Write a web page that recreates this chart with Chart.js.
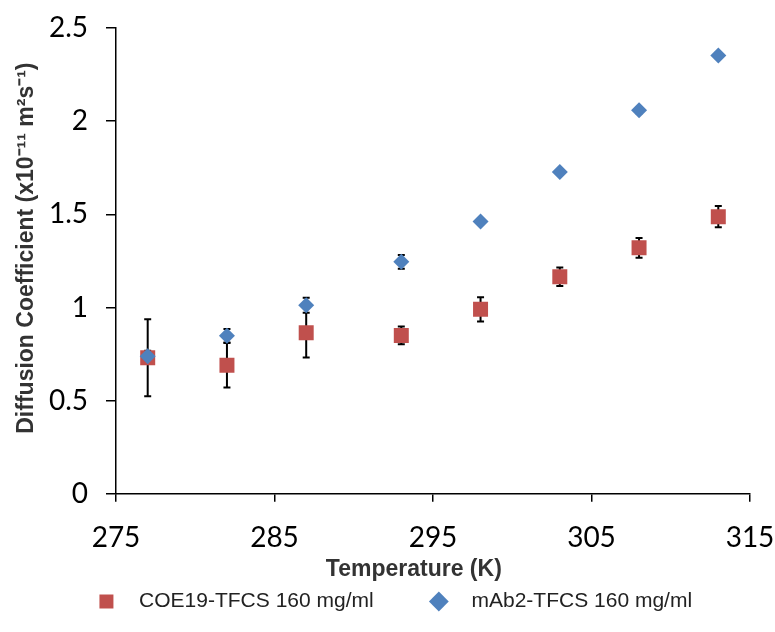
<!DOCTYPE html>
<html>
<head>
<meta charset="utf-8">
<script src="https://cdn.jsdelivr.net/npm/chart.js@4/dist/chart.umd.min.js"></script>
<style>
  html, body { margin: 0; padding: 0; background: #fff; }
  #wrap { width: 775px; height: 632px; }
</style>
</head>
<body>
<div id="wrap"><canvas id="chartCanvas" width="775" height="632"></canvas></div>
<script>
// temperatures (K)
const temps = [277, 282, 287, 293, 298, 303, 308, 313]

// COE19 series + error
const coe19 = [0.73, 0.69, 0.865, 0.85, 0.99, 1.165, 1.32, 1.487]
const coe19Err = [0.207, 0.12, 0.134, 0.048, 0.065, 0.05, 0.053, 0.057]

// mAb2 series + error
const mab2 = [0.738, 0.848, 1.012, 1.245, 1.461, 1.727, 2.058, 2.352]
const mab2Err = [0.03, 0.036, 0.04, 0.037, 0.015, 0.015, 0.015, 0.015]

const xTicks = [275, 285, 295, 305, 315]
const yTicks = [0, 0.5, 1, 1.5, 2, 2.5]

const seriesNames = ["COE19-TFCS 160 mg/ml", "mAb2-TFCS 160 mg/ml"]

function toPoints(ys, errs) {
    return temps.map((t, i) => ({x: t, y: ys[i], err: errs[i]}))
}

// error bars, drawn under the markers
const errorBars = {
    id: "errorBars",
    beforeDatasetsDraw(chart) {
        const ctx = chart.ctx
        const xs = chart.scales.x
        const ys = chart.scales.y
        ctx.save()
        ctx.strokeStyle = "#000"
        ctx.lineWidth = 2
        chart.data.datasets.forEach(ds => {
            ds.data.forEach(p => {
                const px = xs.getPixelForValue(p.x)
                const top = ys.getPixelForValue(p.y + p.err)
                const bot = ys.getPixelForValue(p.y - p.err)
                ctx.beginPath()
                ctx.moveTo(px, top); ctx.lineTo(px, bot)
                ctx.moveTo(px - 3.5, top); ctx.lineTo(px + 3.5, top)
                ctx.moveTo(px - 3.5, bot); ctx.lineTo(px + 3.5, bot)
                ctx.stroke()
            })
        })
        ctx.restore()
    }
}

const tickFont = {family: "Lato", size: 28}
const titleFont = {family: "Liberation Sans", size: 23, weight: "bold"}

const ctx = document.getElementById("chartCanvas")
const myChart = new Chart(ctx, {
    type: "scatter",
    data: {
        datasets: [
            {
                label: seriesNames[0],
                data: toPoints(coe19, coe19Err),
                pointStyle: "rect",
                pointRadius: 10.6,
                pointHoverRadius: 10.6,
                backgroundColor: "#C0504D",
                borderColor: "#C0504D",
                borderWidth: 0,
                order: 1
            },
            {
                label: seriesNames[1],
                data: toPoints(mab2, mab2Err),
                pointStyle: "rectRot",
                pointRadius: 8,
                pointHoverRadius: 8,
                backgroundColor: "#4F81BD",
                borderColor: "#4F81BD",
                borderWidth: 0,
                order: 0
            }
        ]
    },
    options: {
        responsive: false,
        animation: false,
        layout: {padding: {left: 38, right: 25, top: 28, bottom: 10}},
        plugins: {
            tooltip: {enabled: false},
            legend: {
                position: "bottom",
                labels: {
                    usePointStyle: true,
                    boxHeight: 14,
                    padding: 8,
                    color: "#222",
                    font: {family: "Liberation Sans", size: 21},
                    sort: (a, b) => a.datasetIndex - b.datasetIndex,
                    generateLabels(chart) {
                        const items = Chart.defaults.plugins.legend.labels.generateLabels(chart)
                        items.forEach(it => {
                            it.lineWidth = 0
                            // a bit of room after the first entry, like the original
                            it.text = "  " + it.text + (it.datasetIndex === 0 ? "        " : "")
                        })
                        return items
                    }
                }
            }
        },
        scales: {
            x: {
                type: "linear",
                min: 275, max: 315,
                afterBuildTicks: s => { s.ticks = xTicks.map(v => ({value: v})) },
                afterFit: s => { s.paddingLeft = 0; s.paddingRight = 0 },
                border: {color: "#000", width: 1.5},
                grid: {drawOnChartArea: false, drawTicks: true, tickLength: 8, color: "#000", lineWidth: 1.5},
                ticks: {color: "#000", font: tickFont, padding: 19, callback: v => String(v)},
                title: {display: true, text: "Temperature (K)      ", color: "#333",
                        font: titleFont, padding: {top: -18, bottom: 0}}
            },
            y: {
                min: 0, max: 2.5,
                afterBuildTicks: s => { s.ticks = yTicks.map(v => ({value: v})) },
                border: {color: "#000", width: 1.5},
                grid: {drawOnChartArea: false, drawTicks: true, tickLength: 10, color: "#000", lineWidth: 1.5},
                ticks: {color: "#000", font: tickFont, padding: 18, callback: v => String(v)},
                title: {display: true, text: "    Diffusion Coefficient (x10\u207B\u00B9\u00B9 m\u00B2s\u207B\u00B9)", color: "#333",
                        font: titleFont, padding: {top: -25, bottom: 0}},
                afterFit: s => { s.width = 78; s.paddingTop = 0; s.paddingBottom = 0 }
            }
        }
    },
    plugins: [errorBars]
})
</script>
</body>
</html>
